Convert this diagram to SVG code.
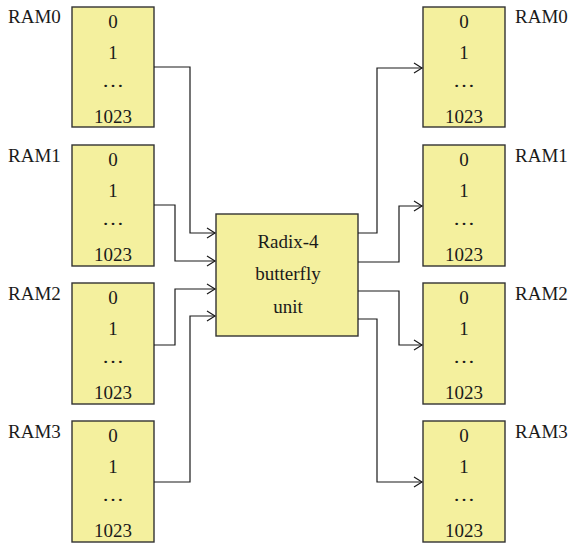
<svg xmlns="http://www.w3.org/2000/svg" width="572" height="545" viewBox="0 0 572 545">
<defs>
<marker id="arr" markerUnits="userSpaceOnUse" markerWidth="10" markerHeight="12" refX="8" refY="5" orient="auto" overflow="visible">
<path d="M0,0 L8,5 L0,10" fill="none" stroke="#1a1a1a" stroke-width="1.2"/>
</marker>
<style>
.ram{fill:#f4f09e;stroke:#333;stroke-width:1.4}
.t{font-family:"Liberation Serif","DejaVu Serif",serif;font-size:19px;fill:#1a1a1a}
.c{text-anchor:middle}
.w{fill:none;stroke:#1a1a1a;stroke-width:1.2}
</style>
</defs>
<g id="ram_in0"><rect class="ram" x="72" y="7" width="82" height="120"/><text class="t" x="8" y="23">RAM0</text><text class="t c" x="113" y="28">0</text><text class="t c" x="113" y="59">1</text><text class="t c" x="113" y="87" textLength="22" lengthAdjust="spacingAndGlyphs">…</text><text class="t c" x="113" y="123">1023</text></g>
<g id="ram_in1"><rect class="ram" x="72" y="145" width="82" height="121"/><text class="t" x="8" y="162">RAM1</text><text class="t c" x="113" y="166">0</text><text class="t c" x="113" y="197">1</text><text class="t c" x="113" y="225" textLength="22" lengthAdjust="spacingAndGlyphs">…</text><text class="t c" x="113" y="261">1023</text></g>
<g id="ram_in2"><rect class="ram" x="72" y="283" width="82" height="121"/><text class="t" x="8" y="300">RAM2</text><text class="t c" x="113" y="304">0</text><text class="t c" x="113" y="335">1</text><text class="t c" x="113" y="363" textLength="22" lengthAdjust="spacingAndGlyphs">…</text><text class="t c" x="113" y="399">1023</text></g>
<g id="ram_in3"><rect class="ram" x="72" y="421" width="82" height="121"/><text class="t" x="8" y="438">RAM3</text><text class="t c" x="113" y="442">0</text><text class="t c" x="113" y="473">1</text><text class="t c" x="113" y="501" textLength="22" lengthAdjust="spacingAndGlyphs">…</text><text class="t c" x="113" y="537">1023</text></g>
<g id="butterfly"><rect class="ram" x="216" y="214" width="142" height="122"/><text class="t c" x="288" y="248">Radix-4</text><text class="t c" x="288" y="280">butterfly</text><text class="t c" x="288" y="313">unit</text></g>
<g id="ram_out0"><rect class="ram" x="423" y="7" width="82" height="120"/><text class="t" x="515" y="23">RAM0</text><text class="t c" x="464" y="28">0</text><text class="t c" x="464" y="59">1</text><text class="t c" x="464" y="87" textLength="22" lengthAdjust="spacingAndGlyphs">…</text><text class="t c" x="464" y="123">1023</text></g>
<g id="ram_out1"><rect class="ram" x="423" y="145" width="82" height="121"/><text class="t" x="515" y="162">RAM1</text><text class="t c" x="464" y="166">0</text><text class="t c" x="464" y="197">1</text><text class="t c" x="464" y="225" textLength="22" lengthAdjust="spacingAndGlyphs">…</text><text class="t c" x="464" y="261">1023</text></g>
<g id="ram_out2"><rect class="ram" x="423" y="283" width="82" height="121"/><text class="t" x="515" y="300">RAM2</text><text class="t c" x="464" y="304">0</text><text class="t c" x="464" y="335">1</text><text class="t c" x="464" y="363" textLength="22" lengthAdjust="spacingAndGlyphs">…</text><text class="t c" x="464" y="399">1023</text></g>
<g id="ram_out3"><rect class="ram" x="423" y="421" width="82" height="121"/><text class="t" x="515" y="438">RAM3</text><text class="t c" x="464" y="442">0</text><text class="t c" x="464" y="473">1</text><text class="t c" x="464" y="501" textLength="22" lengthAdjust="spacingAndGlyphs">…</text><text class="t c" x="464" y="537">1023</text></g>
<g id="connectors">
<path class="w" d="M154,67 H190 V233 H215" marker-end="url(#arr)"/>
<path class="w" d="M154,205 H175 V261 H215" marker-end="url(#arr)"/>
<path class="w" d="M154,345 H175 V289 H215" marker-end="url(#arr)"/>
<path class="w" d="M154,482 H190 V316 H215" marker-end="url(#arr)"/>
<path class="w" d="M358,233 H377 V68 H422" marker-end="url(#arr)"/>
<path class="w" d="M358,262 H399 V206 H422" marker-end="url(#arr)"/>
<path class="w" d="M358,291 H399 V345 H422" marker-end="url(#arr)"/>
<path class="w" d="M358,319 H377 V482 H422" marker-end="url(#arr)"/>
</g>
</svg>
